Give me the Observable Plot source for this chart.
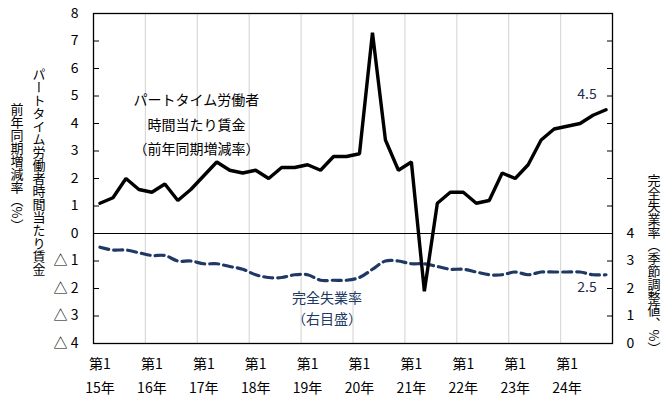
<!DOCTYPE html>
<html><head><meta charset="utf-8">
<script src="https://cdn.jsdelivr.net/npm/d3@7"></script>
<script src="https://cdn.jsdelivr.net/npm/@observablehq/plot@0.6"></script>
<style>
body{margin:0;background:#fff;}
svg{font-family:"Noto Sans CJK JP","Noto Sans",sans-serif;}
</style></head>
<body><div id="chart"></div>
<script>
// Categories: quarterly, 2015 Q1 – 2024 Q4
const years = ["15年","16年","17年","18年","19年","20年","21年","22年","23年","24年"];
const quarterLabel = "第1";
// パートタイム労働者時間当たり賃金 前年同期増減率 (%)
const wage = [1.1,1.3,2.0,1.6, 1.5,1.8,1.2,1.6, 2.1,2.6,2.3,2.2, 2.3,2.0,2.4,2.4,
              2.5,2.3,2.8,2.8, 2.9,7.3,3.4,2.3, 2.6,-2.1,1.1,1.5, 1.5,1.1,1.2,2.2,
              2.0,2.5,3.4,3.8, 3.9,4.0,4.3,4.5];
// 完全失業率 季節調整値 (%), right axis
const unemp = [3.5,3.4,3.4,3.3, 3.2,3.2,3.0,3.0, 2.9,2.9,2.8,2.7, 2.5,2.4,2.4,2.5,
               2.5,2.3,2.3,2.3, 2.4,2.7,3.0,3.0, 2.9,2.9,2.8,2.7, 2.7,2.6,2.5,2.5,
               2.6,2.5,2.6,2.6, 2.6,2.6,2.5,2.5];
// Axis tick values
const leftTicks = [-4,-3,-2,-1,0,1,2,3,4,5,6,7,8];
const rightTicks = [0,1,2,3,4];
const rightOffset = 4; // right-axis 0 sits at left-axis -4

const rows = wage.map((w, i) => ({i, wage: w, unemp: unemp[i], u: unemp[i] - rightOffset}));
const yearStarts = years.map((_, k) => k * 4);
const yearBounds = yearStarts.slice(1).map(s => s - 0.5);
const innerTicks = leftTicks.filter(t => t > -4 && t < 8 && t !== 0);

const navy = "#203864";
const fs = 14;

const svg = Plot.plot({
  width: 663, height: 405,
  marginLeft: 93, marginRight: 51, marginTop: 13, marginBottom: 62,
  style: {fontSize: fs + "px", fontFamily: '"Noto Sans CJK JP","Noto Sans",sans-serif', color: "#000", background: "#fff", overflow: "visible"},
  x: {type: "linear", domain: [-0.5, rows.length - 0.5]},
  y: {domain: [leftTicks[0], leftTicks[leftTicks.length - 1]]},
  marks: [
    Plot.gridX(yearBounds, {stroke: "#d9d9d9", strokeOpacity: 1, strokeWidth: 1.2}),
    Plot.ruleY([0], {stroke: "#000", strokeWidth: 1.2}),
    // left axis labels
    Plot.axisY(leftTicks, {anchor: "left", label: null, tickSize: 0, tickPadding: 15, fontSize: fs,
      tickFormat: d => d < 0 ? `△ ${-d}` : `${d}`}),
    // left inner ticks
    Plot.axisY(innerTicks, {anchor: "left", label: null, tickSize: 6, dx: 6, tickFormat: () => "", stroke: "#000"}),
    // right inner ticks
    Plot.axisY(innerTicks, {anchor: "right", label: null, tickSize: 6, dx: -6, tickFormat: () => "", stroke: "#000"}),
    // right axis labels
    Plot.axisY(rightTicks.map(v => v - rightOffset), {anchor: "right", label: null, tickSize: 0, tickPadding: 14, fontSize: fs,
      tickFormat: d => `${d + rightOffset}`}),
    // x axis: quarter and year labels
    Plot.axisX(yearStarts, {label: null, tickSize: 0, tickPadding: 16, fontSize: fs, tickFormat: () => quarterLabel}),
    Plot.axisX(yearStarts, {label: null, tickSize: 0, tickPadding: 40, fontSize: fs, tickFormat: d => years[d / 4]}),
    Plot.line(rows, {x: "i", y: "u", stroke: navy, strokeWidth: 3.2, strokeDasharray: "9,5", curve: "catmull-rom"}),
    Plot.line(rows, {x: "i", y: "wage", stroke: "#000", strokeWidth: 3.4, strokeLinejoin: "miter"}),
    Plot.frame({stroke: "#000", strokeWidth: 1.3}),
    // annotations
    Plot.text(["パートタイム労働者\n時間当たり賃金\n（前年同期増減率）"], {x: 7.43, y: 4.05, fill: "#000", fontSize: fs, lineHeight: 1.75, textAnchor: "middle"}),
    Plot.text(["完全失業率\n（右目盛）"], {x: 17.5, y: -2.67, fill: navy, fontSize: fs, lineHeight: 1.46, textAnchor: "middle"}),
    Plot.text(rows.slice(-1), {x: "i", y: "wage", text: d => `${d.wage}`, dx: -19, dy: -15, fill: "#1f2d4a", fontSize: fs}),
    Plot.text(rows.slice(-1), {x: "i", y: "u", text: d => `${d.unemp}`, dx: -19, dy: 13, fill: "#1f2d4a", fontSize: fs})
  ]
});

const sel = d3.select(svg);
const vt = (x, y, t, size) => sel.append("text")
  .attr("x", x).attr("y", y).attr("text-anchor", "middle")
  .style("writing-mode", "vertical-rl").style("font-size", size + "px").attr("fill", "#000").text(t);
vt(39, 172, "パートタイム労働者時間当たり賃金", 13);
vt(17, 167, "前年同期増減率（%）", 13);
vt(654, 264, "完全失業率（季節調整値、%）", 13);

document.getElementById("chart").appendChild(svg);
</script></body></html>
